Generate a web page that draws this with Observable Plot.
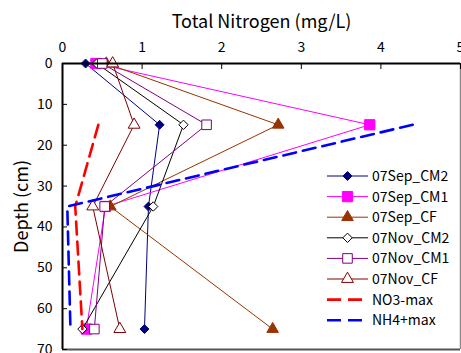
<!DOCTYPE html>
<html><head><meta charset="utf-8">
<script src="https://cdn.jsdelivr.net/npm/d3@7"></script>
<script src="https://cdn.jsdelivr.net/npm/@observablehq/plot@0.6"></script>
<style>body{margin:0;background:#fff} #chart{width:461px;height:353px;overflow:hidden}</style>
</head><body><div id="chart"></div>
<script>
// Depth (cm) at which samples were taken
const depths = [0, 15, 35, 65];
// Total nitrogen (mg/L)
const sep_CM2 = [0.29, 1.22, 1.08, 1.03];
const sep_CM1 = [0.42, 3.86, 0.54, 0.30];
const sep_CF  = [0.55, 2.71, 0.60, 2.64];
const nov_CM2 = [0.43, 1.52, 1.14, 0.25];
const nov_CM1 = [0.50, 1.81, 0.53, 0.40];
const nov_CF  = [0.63, 0.90, 0.38, 0.72];
// Maximum curves
const maxDepths = [15, 35, 65];
const no3Max = [0.45, 0.16, 0.25];
const nh4Max = [4.40, 0.06, 0.10];
// Axes
const xTicks = [0, 1, 2, 3, 4, 5];
const yTicks = [0, 10, 20, 30, 40, 50, 60, 70];
const xTitle = "Total Nitrogen (mg/L)";
const yTitle = "Depth (cm)";

const series = [
  {name: "07Sep_CM2", values: sep_CM2, stroke: "#000080", symbol: "diamond2", fill: "#000080", r: 4},
  {name: "07Sep_CM1", values: sep_CM1, stroke: "#FF00FF", symbol: "square", fill: "#FF00FF", r: 5.8},
  {name: "07Sep_CF",  values: sep_CF,  stroke: "#993300", symbol: "triangle", fill: "#993300", r: 4.3},
  {name: "07Nov_CM2", values: nov_CM2, stroke: "#000000", symbol: "diamond2", fill: "#FFFFFF", r: 4.2},
  {name: "07Nov_CM1", values: nov_CM1, stroke: "#800080", symbol: "square", fill: "#FFFFFF", r: 5.4},
  {name: "07Nov_CF",  values: nov_CF,  stroke: "#800000", symbol: "triangle", fill: "#FFFFFF", r: 4.4}
];
const dashed = [
  {name: "NO3-max", values: no3Max, stroke: "#FF0000"},
  {name: "NH4+max", values: nh4Max, stroke: "#0000FF"}
];

const font = "'Noto Sans CJK JP', 'Noto Sans', sans-serif";
const marks = [];
for (const s of series) {
  const rows = depths.map((d, i) => ({depth: d, value: s.values[i]}));
  marks.push(Plot.line(rows, {x: "value", y: "depth", stroke: s.stroke, strokeWidth: 1}));
  marks.push(Plot.dot(rows, {x: "value", y: "depth", symbol: () => s.symbol, r: s.r, fill: s.fill, stroke: s.stroke, strokeWidth: 1}));
}
for (const s of dashed) {
  const rows = maxDepths.map((d, i) => ({depth: d, value: s.values[i]}));
  marks.push(Plot.line(rows, {x: "value", y: "depth", stroke: s.stroke, strokeWidth: 2.6, strokeDasharray: "13,7"}));
}

const chart = Plot.plot({
  width: 461, height: 353,
  marginLeft: 62, marginRight: 1, marginTop: 63, marginBottom: 4,
  style: {fontFamily: font, fontSize: "13px", color: "#000", background: "#fff", overflow: "visible"},
  x: {domain: [0, 5]},
  y: {domain: [0, 70], reverse: true},
  symbol: {type: "identity"},
  marks: [
    Plot.ruleX([5], {stroke: "#8a8a8a", strokeWidth: 1.5}),
    Plot.ruleY([70], {stroke: "#555", strokeWidth: 2}),
    ...marks,
    Plot.ruleX(xTicks, {insetBottom: 280, stroke: "#000", strokeWidth: 1}),
    Plot.ruleY(yTicks, {insetRight: 393, stroke: "#000", strokeWidth: 1}),
    Plot.ruleX([0], {stroke: "#000", strokeWidth: 2}),
    Plot.ruleY([0], {stroke: "#000", strokeWidth: 2}),
    Plot.axisX(xTicks, {anchor: "top", tickSize: 0, tickPadding: 12, label: null, fontSize: 14}),
    Plot.axisY(yTicks, {anchor: "left", tickSize: 0, tickPadding: 10, label: null, fontSize: 14}),
    Plot.text([xTitle], {frameAnchor: "top", dy: -41, lineAnchor: "middle", fontSize: 18, text: d => d}),
    Plot.text([yTitle], {frameAnchor: "left", dx: -40, textAnchor: "middle", lineAnchor: "middle", rotate: -90, fontSize: 18, text: d => d})
  ]
});
document.getElementById("chart").append(chart);

// Legend inside the plot area
const svg = d3.select(chart);
const lg = svg.append("g").attr("font-family", font).attr("font-size", 14).attr("text-anchor", "start");
const symbolTypes = {diamond2: d3.symbolDiamond2, square: d3.symbolSquare, triangle: d3.symbolTriangle};
const entries = [...series, ...dashed];
entries.forEach((s, i) => {
  const y = 176 + i * 20.6;
  const g = lg.append("g").attr("transform", `translate(0,${y})`);
  if (s.symbol) {
    g.append("line").attr("x1", 327).attr("x2", 368).attr("stroke", s.stroke).attr("stroke-width", 1);
    g.append("path").attr("transform", "translate(347.5,0)")
      .attr("d", d3.symbol(symbolTypes[s.symbol], Math.PI * s.r * s.r)())
      .attr("fill", s.fill).attr("stroke", s.stroke);
  } else {
    g.append("line").attr("x1", 327).attr("x2", 362).attr("stroke", s.stroke)
      .attr("stroke-width", 2.6).attr("stroke-dasharray", "14,7");
  }
  g.append("text").attr("x", 372).attr("dy", "0.35em").text(s.name);
});
</script></body></html>
